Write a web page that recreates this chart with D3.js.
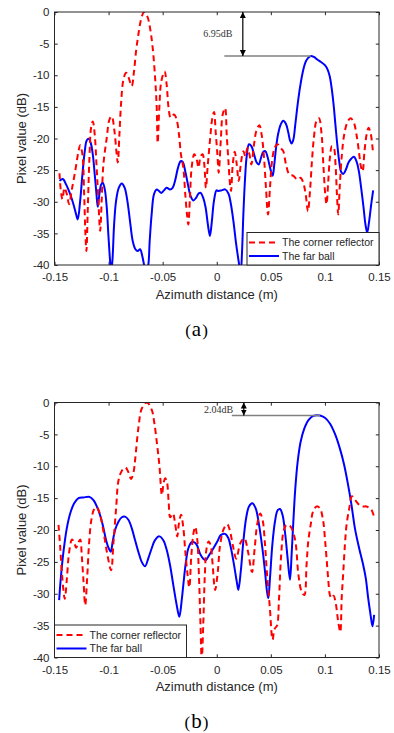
<!DOCTYPE html>
<html>
<head>
<meta charset="utf-8">
<script src="https://cdn.jsdelivr.net/npm/d3@7"></script>
<style>
  body { margin: 0; background: #fff; }
  svg text { font-family: "Liberation Sans", Arial, sans-serif; fill: #262626; }
</style>
</head>
<body>
<svg id="chart" width="394" height="733"></svg>
<script>
// tick values shared by both panels
const xTicks = [-0.15, -0.1, -0.05, 0, 0.05, 0.1, 0.15];
const yTicks = [0, -5, -10, -15, -20, -25, -30, -35, -40];
const seriesNames = ["The corner reflector", "The far ball"];
const xLabel = "Azimuth distance (m)";
const yLabel = "Pixel value (dB)";

// (a) [azimuth m, dB]
const reflectorA = [
  [-0.1454,-25.5],[-0.1438,-28.8],[-0.1426,-29.6],[-0.1408,-27.8],[-0.1386,-28.8],[-0.1365,-30.4],
  [-0.134,-28.1],[-0.1309,-25.2],[-0.1278,-22.0],[-0.1263,-21.05],[-0.1242,-22.5],[-0.1226,-28.8],
  [-0.1214,-35.2],[-0.1205,-37.8],[-0.1192,-30.9],[-0.1177,-23.05],[-0.1162,-18.3],[-0.1146,-17.3],
  [-0.1128,-19.4],[-0.1112,-24.1],[-0.1097,-28.8],[-0.1078,-34.6],[-0.1063,-29.4],[-0.1048,-24.1],
  [-0.1017,-19.9],[-0.0992,-17.0],[-0.0971,-16.5],[-0.0946,-18.8],[-0.0928,-22.0],[-0.0915,-23.8],
  [-0.09,-19.4],[-0.0885,-14.6],[-0.0863,-10.7],[-0.0838,-9.6],[-0.0814,-10.4],[-0.0786,-11.7],
  [-0.0765,-9.4],[-0.0746,-6.2],[-0.0725,-3.6],[-0.07,-1.2],[-0.0672,0],[-0.0642,-0.7],
  [-0.0617,-2.5],[-0.0592,-5.7],[-0.0568,-10.9],[-0.0555,-15.2],[-0.0546,-20.7],[-0.0531,-15.2],
  [-0.0512,-10.9],[-0.0482,-9.4],[-0.0463,-11.5],[-0.0445,-15.2],[-0.0426,-16.7],[-0.0395,-16.2],
  [-0.0371,-17.0],[-0.0349,-19.4],[-0.0331,-22.5],[-0.0309,-24.6],[-0.0291,-28.8],[-0.0275,-32.0],
  [-0.0263,-33.6],[-0.0248,-29.4],[-0.0232,-24.6],[-0.0208,-22.5],[-0.0186,-23.3],[-0.0168,-24.6],
  [-0.0149,-22.8],[-0.0131,-22.5],[-0.0115,-24.1],[-0.01,-27.8],[-0.0085,-24.6],[-0.0063,-20.4],
  [-0.0042,-16.9],[-0.0025,-15.8],[-0.001,-19.0],[0.0006,-22.5],[0.0018,-25.4],[0.0037,-20.4],
  [0.0055,-16.2],[0.0077,-15.2],[0.0092,-19.4],[0.0108,-23.6],[0.0123,-27.3],[0.0132,-28.3],
  [0.0148,-24.1],[0.0166,-22.1],[0.0185,-24.1],[0.0203,-26.7],[0.0222,-24.1],[0.0246,-22.0],
  [0.0265,-22.8],[0.0283,-21.5],[0.0302,-22.5],[0.032,-24.1],[0.0345,-20.9],[0.0369,-18.6],
  [0.0394,-17.9],[0.0415,-19.4],[0.0437,-23.05],[0.0455,-27.8],[0.0474,-32.0],[0.0492,-27.8],
  [0.0511,-23.6],[0.0535,-21.5],[0.056,-20.9],[0.0591,-21.5],[0.0615,-22.0],[0.064,-24.1],
  [0.0671,-25.7],[0.0708,-25.9],[0.0745,-26.5],[0.0775,-26.2],[0.08,-27.0],[0.0822,-28.8],
  [0.0843,-31.5],[0.0862,-28.3],[0.088,-23.6],[0.0898,-19.9],[0.0922,-17.2],[0.0945,-16.8],
  [0.097,-19.5],[0.0985,-24.0],[0.1003,-28.8],[0.1015,-30.4],[0.1031,-26.7],[0.1046,-23.05],
  [0.1065,-21.2],[0.1083,-21.5],[0.1098,-24.1],[0.1111,-28.8],[0.1123,-32.0],[0.1138,-27.3],
  [0.1157,-22.5],[0.1178,-19.4],[0.1206,-17.5],[0.1237,-16.8],[0.1268,-17.5],[0.1292,-19.4],
  [0.1314,-22.0],[0.1332,-24.4],[0.1348,-25.2],[0.1366,-22.0],[0.1385,-19.4],[0.1403,-18.3],
  [0.1422,-19.1],[0.1437,-20.9],[0.1446,-22.5]
];
const ballA = [
  [-0.1454,-26.7],[-0.1423,-26.4],[-0.1392,-27.3],[-0.1355,-28.8],[-0.1325,-30.4],[-0.13,-32.0],
  [-0.1285,-32.8],[-0.1263,-29.9],[-0.1242,-25.7],[-0.122,-22.0],[-0.1202,-20.3],[-0.1183,-20.05],
  [-0.1165,-20.7],[-0.1146,-22.5],[-0.1128,-25.7],[-0.1112,-28.8],[-0.11,-30.8],[-0.1085,-28.8],
  [-0.1069,-27.3],[-0.1054,-27.0],[-0.1035,-28.05],[-0.1017,-30.9],[-0.1002,-35.2],[-0.0986,-39.4],
  [-0.0977,-41.0],[-0.0965,-39.4],[-0.0949,-33.6],[-0.0931,-29.9],[-0.0906,-27.8],[-0.0878,-27.1],
  [-0.0851,-27.8],[-0.0826,-29.9],[-0.0802,-33.05],[-0.0777,-36.2],[-0.0752,-37.5],[-0.0731,-37.8],
  [-0.0709,-37.5],[-0.0688,-38.6],[-0.0669,-40.2],[-0.0654,-41.0],[-0.0635,-40.2],[-0.062,-36.2],
  [-0.0602,-32.0],[-0.058,-28.8],[-0.0555,-28.05],[-0.0534,-28.3],[-0.0512,-28.6],[-0.0488,-28.2],
  [-0.0463,-27.8],[-0.0432,-28.05],[-0.0408,-27.8],[-0.0383,-26.5],[-0.0358,-24.6],[-0.0334,-23.6],
  [-0.0315,-23.7],[-0.0291,-25.2],[-0.0266,-27.3],[-0.0242,-29.1],[-0.0217,-29.8],[-0.0192,-29.4],
  [-0.0168,-28.7],[-0.0149,-28.6],[-0.0125,-29.4],[-0.0103,-30.9],[-0.0082,-33.6],[-0.0063,-35.4],
  [-0.0045,-33.05],[-0.0026,-29.9],[-0.0002,-28.2],[0.0015,-28.3],[0.0046,-28.2],[0.0077,-28.05],
  [0.0108,-28.7],[0.0129,-30.2],[0.0154,-33.05],[0.0178,-36.5],[0.0197,-38.8],[0.0212,-40.4],
  [0.0222,-41.0],[0.0234,-37.8],[0.0246,-32.0],[0.0262,-26.2],[0.0277,-22.8],[0.0298,-20.9],
  [0.032,-21.2],[0.0345,-22.5],[0.0369,-23.8],[0.0388,-24.1],[0.0409,-23.05],[0.0431,-22.1],
  [0.0449,-22.0],[0.0468,-22.8],[0.0486,-24.1],[0.0505,-25.4],[0.0517,-25.9],[0.0532,-24.1],
  [0.0548,-21.5],[0.0566,-19.4],[0.0591,-17.8],[0.0615,-17.2],[0.064,-17.7],[0.0662,-19.1],
  [0.0677,-20.3],[0.0692,-20.8],[0.0708,-20.2],[0.0726,-17.8],[0.0748,-14.6],[0.0769,-12.0],
  [0.0794,-9.6],[0.0818,-8.05],[0.0843,-7.3],[0.0871,-6.95],[0.0898,-7.1],[0.0929,-7.5],
  [0.0963,-7.9],[0.1,-8.4],[0.1025,-9.1],[0.1045,-10.2],[0.1062,-12.0],[0.108,-14.6],
  [0.1097,-17.8],[0.1114,-20.9],[0.1132,-23.6],[0.1151,-25.3],[0.1169,-25.6],[0.1194,-24.9],
  [0.1218,-23.8],[0.1243,-23.2],[0.1268,-22.9],[0.1292,-23.6],[0.1314,-25.2],[0.1335,-27.8],
  [0.1357,-30.9],[0.1375,-33.6],[0.1391,-34.9],[0.1409,-33.05],[0.1428,-30.4],[0.1446,-28.2]
];
const gapA = 6.95;

// (b) [azimuth m, dB]
const reflectorB = [
  [-0.1463,-19.2],[-0.1448,-22.5],[-0.1428,-27.5],[-0.1405,-30.8],[-0.1385,-27.5],[-0.1365,-23.5],
  [-0.1338,-21.5],[-0.1318,-22.0],[-0.13,-22.8],[-0.128,-22.0],[-0.1262,-21.5],[-0.1248,-24.0],
  [-0.1232,-28.0],[-0.1216,-31.8],[-0.1198,-27.5],[-0.118,-22.0],[-0.116,-18.5],[-0.1135,-16.8],
  [-0.111,-16.4],[-0.108,-17.5],[-0.105,-20.0],[-0.1015,-23.5],[-0.0977,-26.3],[-0.0955,-22.0],
  [-0.093,-16.5],[-0.0908,-12.2],[-0.0877,-10.7],[-0.0845,-10.2],[-0.0815,-11.0],[-0.0793,-12.0],
  [-0.0769,-10.9],[-0.0754,-8.9],[-0.0723,-3.8],[-0.0692,-0.9],[-0.0645,0],[-0.06,-1.2],
  [-0.0578,-3.1],[-0.0553,-6.4],[-0.053,-9.9],[-0.0507,-14.5],[-0.049,-12.5],[-0.0476,-11.9],
  [-0.046,-12.5],[-0.0445,-15.5],[-0.043,-18.0],[-0.0405,-17.4],[-0.0385,-19.0],[-0.0365,-21.0],
  [-0.035,-19.0],[-0.033,-17.6],[-0.031,-19.5],[-0.029,-23.5],[-0.027,-27.0],[-0.0254,-29.0],
  [-0.0235,-24.0],[-0.0215,-20.5],[-0.0199,-19.5],[-0.018,-21.5],[-0.0165,-27.0],[-0.015,-35.0],
  [-0.0139,-40.5],[-0.0125,-35.0],[-0.011,-27.0],[-0.0095,-23.0],[-0.0075,-21.8],[-0.0055,-22.5],
  [-0.004,-25.0],[-0.0015,-29.4],[0.001,-26.5],[0.003,-22.5],[0.0065,-19.8],[0.0097,-19.1],
  [0.012,-20.0],[0.015,-22.5],[0.018,-24.5],[0.022,-22.0],[0.0255,-21.3],[0.029,-23.5],
  [0.0326,-26.6],[0.035,-23.0],[0.0375,-19.0],[0.0402,-17.4],[0.0425,-18.5],[0.0445,-22.0],
  [0.0465,-27.0],[0.049,-32.0],[0.0516,-37.2],[0.0535,-35.5],[0.0557,-35.0],[0.0575,-31.0],
  [0.0595,-24.0],[0.062,-20.0],[0.0645,-19.2],[0.068,-19.4],[0.0714,-20.8],[0.0732,-22.4],
  [0.0755,-27.0],[0.0785,-29.7],[0.081,-30.2],[0.083,-25.5],[0.0846,-21.8],[0.087,-19.0],
  [0.089,-17.1],[0.0923,-16.3],[0.0954,-16.6],[0.0985,-18.7],[0.1,-21.3],[0.1015,-24.4],
  [0.103,-27.6],[0.1046,-30.2],[0.106,-30.7],[0.108,-30.3],[0.11,-31.5],[0.1123,-34.4],
  [0.1142,-36.0],[0.1155,-30.7],[0.117,-26.5],[0.1185,-22.3],[0.12,-19.2],[0.1225,-16.6],
  [0.125,-14.7],[0.128,-15.3],[0.132,-16.1],[0.135,-16.3],[0.1385,-16.3],[0.1415,-16.6],
  [0.143,-16.8],[0.146,-18.2]
];
const ballB = [
  [-0.1457,-31.0],[-0.1442,-27.6],[-0.1417,-23.4],[-0.1386,-19.7],[-0.1355,-17.4],[-0.1318,-15.8],
  [-0.1278,-15.0],[-0.1232,-14.9],[-0.1177,-14.8],[-0.114,-15.3],[-0.1094,-16.9],[-0.1054,-19.2],
  [-0.1023,-21.6],[-0.0998,-22.9],[-0.098,-23.4],[-0.0962,-21.8],[-0.094,-20.0],[-0.0909,-18.7],
  [-0.0878,-18.0],[-0.0848,-17.9],[-0.0817,-18.4],[-0.0786,-19.7],[-0.0755,-21.6],[-0.0725,-23.4],
  [-0.0694,-25.0],[-0.0663,-25.7],[-0.0632,-24.4],[-0.0602,-22.9],[-0.0571,-21.6],[-0.0531,-21.0],
  [-0.0494,-21.6],[-0.0463,-23.1],[-0.0432,-25.5],[-0.0402,-28.6],[-0.0371,-31.7],[-0.0346,-33.6],
  [-0.0325,-31.2],[-0.0309,-28.6],[-0.0285,-25.0],[-0.0263,-22.9],[-0.0232,-21.9],[-0.0211,-21.9],
  [-0.0186,-22.3],[-0.0155,-23.7],[-0.0125,-24.5],[-0.01,-24.7],[-0.0069,-23.9],[-0.0032,-22.9],
  [0.0005,-21.8],[0.0037,-20.8],[0.0077,-20.6],[0.0108,-21.3],[0.0132,-22.9],[0.016,-25.5],
  [0.0185,-28.1],[0.02,-29.4],[0.0222,-26.5],[0.0246,-21.8],[0.0271,-18.2],[0.0298,-16.3],
  [0.0329,-15.8],[0.036,-16.6],[0.0391,-19.2],[0.0422,-22.9],[0.0446,-26.5],[0.0465,-29.7],
  [0.0477,-30.7],[0.0492,-27.6],[0.0514,-22.3],[0.0538,-18.7],[0.0563,-16.9],[0.0585,-16.7],
  [0.0609,-17.7],[0.0634,-20.8],[0.0655,-24.4],[0.0677,-27.8],[0.0692,-23.9],[0.0708,-18.7],
  [0.0726,-13.5],[0.0748,-9.3],[0.0775,-6.2],[0.0809,-4.1],[0.0846,-2.8],[0.0892,-2.1],
  [0.0954,-2.04],[0.1,-2.4],[0.1046,-3.3],[0.1092,-4.9],[0.1138,-7.2],[0.1178,-9.8],
  [0.1215,-13.0],[0.1246,-16.1],[0.1277,-19.7],[0.1317,-22.9],[0.1354,-25.5],[0.1378,-27.6],
  [0.14,-30.7],[0.1422,-33.3],[0.144,-35.1],[0.1455,-33.3]
];
const gapB = 2.04;

const svg = d3.select("#chart");
const plotLeft = 54.5, plotRight = 379;
const x = d3.scaleLinear().domain([-0.15, 0.15]).range([plotLeft, plotRight]);

// arrowhead for the dB gap annotation
svg.append("defs").append("marker")
  .attr("id", "head")
  .attr("viewBox", "0 0 10 10")
  .attr("refX", 10).attr("refY", 5)
  .attr("markerUnits", "userSpaceOnUse")
  .attr("markerWidth", 6).attr("markerHeight", 7)
  .attr("orient", "auto-start-reverse")
  .append("path")
  .attr("d", "M0,0L10,5L0,10z")
  .attr("fill", "#000");

function drawPanel(p) {
  const y = d3.scaleLinear().domain([-40, 0]).range([p.bottom, p.top]);
  const g = svg.append("g");

  g.append("clipPath").attr("id", "clip-" + p.id)
    .append("rect")
    .attr("x", plotLeft).attr("y", p.top)
    .attr("width", plotRight - plotLeft).attr("height", p.bottom - p.top);

  // axes, ticks pointing inwards like matlab
  const styleAxis = sel => {
    sel.attr("font-family", null).attr("font-size", null);
    sel.select(".domain").remove();
    sel.selectAll("line").attr("stroke", "#262626");
    sel.selectAll("text").style("font-size", "11.5px");
  };
  g.append("g").attr("transform", `translate(0,${p.bottom})`)
    .call(d3.axisBottom(x).tickValues(xTicks).tickSize(-3.2).tickPadding(8.3).tickFormat(d => String(d)))
    .call(styleAxis);
  g.append("g").attr("transform", `translate(0,${p.top})`)
    .call(d3.axisTop(x).tickValues(xTicks).tickSize(-3.2).tickFormat(""))
    .call(styleAxis);
  g.append("g").attr("transform", `translate(${plotLeft},0)`)
    .call(d3.axisLeft(y).tickValues(yTicks).tickSize(-3.2).tickPadding(5).tickFormat(d => String(d)))
    .call(styleAxis);
  g.append("g").attr("transform", `translate(${plotRight},0)`)
    .call(d3.axisRight(y).tickValues(yTicks).tickSize(-3.2).tickFormat(""))
    .call(styleAxis);

  const line = d3.line()
    .x(d => x(d[0]))
    .y(d => y(d[1]))
    .curve(d3.curveCatmullRom.alpha(0.5));

  const lines = g.append("g").attr("clip-path", `url(#clip-${p.id})`);
  lines.append("path").datum(p.ball)
    .attr("d", line)
    .attr("fill", "none").attr("stroke", "#0000ff").attr("stroke-width", 2);
  lines.append("path").datum(p.reflector)
    .attr("d", line)
    .attr("fill", "none").attr("stroke", "#ff0000").attr("stroke-width", 2)
    .attr("stroke-dasharray", "6,4");

  // frame
  g.append("rect")
    .attr("x", plotLeft).attr("y", p.top)
    .attr("width", plotRight - plotLeft).attr("height", p.bottom - p.top)
    .attr("fill", "none").attr("stroke", "#262626").attr("stroke-width", 1);

  // gap annotation: level line from the far-ball peak, double arrow to 0 dB
  const peak = d3.greatest(p.ball, d => d[1]);
  g.append("line")
    .attr("x1", x(p.lineFrom)).attr("x2", x(peak[0]))
    .attr("y1", y(-p.gap)).attr("y2", y(-p.gap))
    .attr("stroke", "#808080").attr("stroke-width", 1.4);
  g.append("line")
    .attr("x1", x(p.arrowAt)).attr("x2", x(p.arrowAt))
    .attr("y1", y(0)).attr("y2", y(-p.gap))
    .attr("stroke", "#000").attr("stroke-width", 1.2)
    .attr("marker-start", "url(#head)").attr("marker-end", "url(#head)");
  g.append("text")
    .attr("x", x(p.arrowAt) - 10.5)
    .attr("y", (y(0) + y(-p.gap)) / 2 + 3.5)
    .attr("text-anchor", "end")
    .style("font-family", "'Liberation Serif', 'Times New Roman', serif")
    .style("font-size", "10px")
    .style("fill", "#333")
    .text(p.gap.toFixed(2) + "dB");

  // legend
  const lw = 132, lh = 32.5;
  const lx = p.legendRight ? plotRight - lw : plotLeft;
  const ly = p.bottom - lh;
  const leg = g.append("g").attr("transform", `translate(${lx},${ly})`);
  leg.append("rect").attr("width", lw).attr("height", lh)
    .attr("fill", "#fff").attr("stroke", "#262626").attr("stroke-width", 1);
  const entries = [
    { name: seriesNames[0], color: "#ff0000", dash: "6,4" },
    { name: seriesNames[1], color: "#0000ff", dash: null }
  ];
  entries.forEach((e, i) => {
    const ey = 10 + i * 13.5;
    leg.append("line").attr("x1", 2).attr("x2", 32).attr("y1", ey).attr("y2", ey)
      .attr("stroke", e.color).attr("stroke-width", 2).attr("stroke-dasharray", e.dash);
    leg.append("text").attr("x", 35).attr("y", ey + 3.8)
      .style("font-size", "10.5px").text(e.name);
  });

  // axis titles
  g.append("text")
    .attr("x", (plotLeft + plotRight) / 2).attr("y", p.bottom + 33.5)
    .attr("text-anchor", "middle").style("font-size", "13px")
    .text(xLabel);
  g.append("text")
    .attr("transform", `translate(25.5,${(p.top + p.bottom) / 2}) rotate(-90)`)
    .attr("text-anchor", "middle").style("font-size", "13px")
    .text(yLabel);

  // sub-figure caption
  const cap = g.append("text")
    .attr("x", 196.5).attr("y", p.bottom + 70.5)
    .attr("text-anchor", "middle")
    .style("font-family", "'Liberation Serif', 'Times New Roman', serif")
    .style("fill", "#000");
  cap.append("tspan").style("font-size", "17px").text("(");
  cap.append("tspan").style("font-size", "21px").attr("dx", 1).text(p.id);
  cap.append("tspan").style("font-size", "17px").attr("dx", 1).text(")");
}

drawPanel({ id: "a", top: 12, bottom: 265, reflector: reflectorA, ball: ballA,
  gap: gapA, arrowAt: 0.0241, lineFrom: 0.007, legendRight: true });
drawPanel({ id: "b", top: 402.5, bottom: 657.5, reflector: reflectorB, ball: ballB,
  gap: gapB, arrowAt: 0.025, lineFrom: 0.0139, legendRight: false });
</script>
</body>
</html>
